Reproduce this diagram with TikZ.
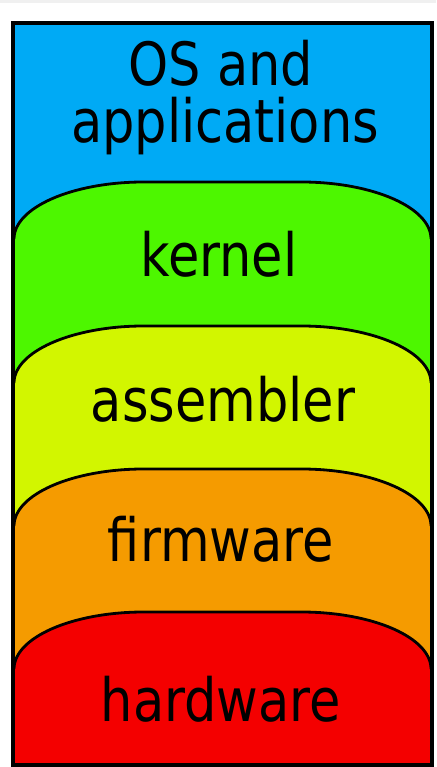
\documentclass[tikz,border=0pt]{standalone}
\usepackage{fontspec}
\newfontfamily\layerfont{DejaVu Sans}
\definecolor{osblue}{RGB}{0,170,245}
\definecolor{kernelgreen}{RGB}{77,247,0}
\definecolor{asmyellow}{RGB}{210,246,0}
\definecolor{fworange}{RGB}{245,155,0}
\definecolor{hwred}{RGB}{244,0,0}
\tikzset{
    layer edge/.style={line width=2.8pt},
    layer label/.style={font=\layerfont\fontsize{51}{60}\selectfont, anchor=base, yscale=1.17, inner sep=0pt},
}
\begin{document}
\begin{tikzpicture}[x=1pt, y=1pt]
        %分层图, 每层顶部为两段椭圆弧, 从上到下依次覆盖填充
        \useasboundingbox (0, 0) rectangle (436, 767);
        \fill[black!6] (0, 764) rectangle (436, 767);
        \fill[osblue] (13, 2) rectangle (432, 744);
        \foreach \col/\ytop in {kernelgreen/585, asmyellow/441, fworange/298, hwred/155} {
            \fill[\col] (14, 2) -- (14, \ytop-57) %
                arc[start angle=180, end angle=90, x radius=130, y radius=57] -- (301, \ytop) %
                arc[start angle=90, end angle=0, x radius=130, y radius=57] -- (431, 2) -- cycle;
            \draw[layer edge] (14, \ytop-57) %
                arc[start angle=180, end angle=90, x radius=130, y radius=57] -- (301, \ytop) %
                arc[start angle=90, end angle=0, x radius=130, y radius=57];
        }
        \draw[line width=4pt] (13, 2) rectangle (432, 744);
        \node[layer label] (os) at (221, 681) {OS and};
        \node[layer label] (apps) at (225, 624) {applications};
        \node[layer label] (kernel) at (219, 490) {kernel};
        \node[layer label] (asm) at (223, 345) {assembler};
        \node[layer label] (fw) at (221, 205) {firmware};
        \node[layer label] (hw) at (221, 45) {hardware};
    \end{tikzpicture}
\end{document}
